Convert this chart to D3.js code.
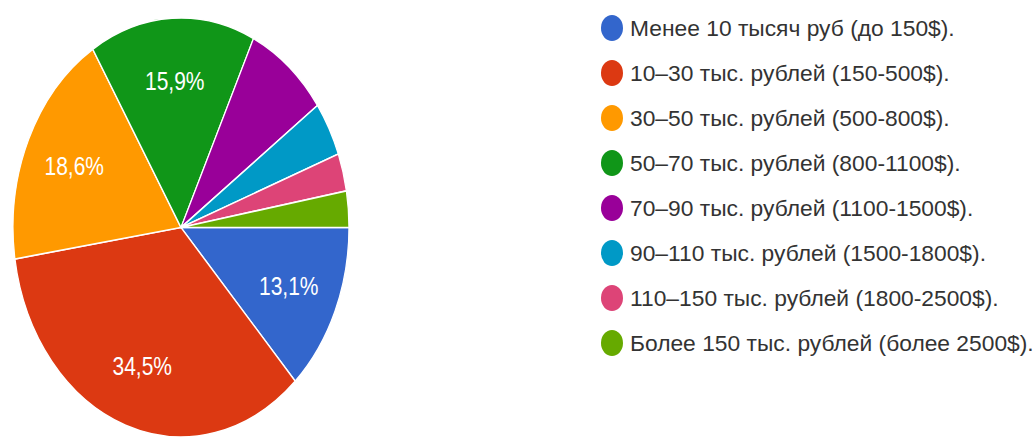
<!DOCTYPE html>
<html>
<head>
<meta charset="utf-8">
<script src="https://cdn.jsdelivr.net/npm/d3@7"></script>
<style>
  html, body { margin: 0; padding: 0; background: #fff; }
  svg { display: block; }
</style>
</head>
<body>
<svg id="chart" width="1034" height="439"></svg>
<script>
const categories = [
  "Менее 10 тысяч руб (до 150$).",
  "10–30 тыс. рублей (150-500$).",
  "30–50 тыс. рублей (500-800$).",
  "50–70 тыс. рублей (800-1100$).",
  "70–90 тыс. рублей (1100-1500$).",
  "90–110 тыс. рублей (1500-1800$).",
  "110–150 тыс. рублей (1800-2500$).",
  "Более 150 тыс. рублей (более 2500$)."
];
const values = [13.1, 34.5, 18.6, 15.9, 8.0, 4.2, 2.9, 2.8];
const valueLabels = ["13,1%", "34,5%", "18,6%", "15,9%", "", "", "", ""];
const colors = ["#3366cc", "#dc3912", "#ff9900", "#109618", "#990099", "#0099c6", "#dd4477", "#66aa00"];

const svg = d3.select("#chart");
svg.append("rect").attr("width", 1034).attr("height", 439).attr("fill", "#fff");

const R = 168;
const stretch = 1.247;
const cx = 181, cy = 227.5;

const pie = d3.pie().sort(null).value(d => d)
  .startAngle(Math.PI / 2).endAngle(Math.PI / 2 + 2 * Math.PI);
const arcs = pie(values);
const arc = d3.arc().innerRadius(0).outerRadius(R);
const labelArc = d3.arc().innerRadius(R * 0.7).outerRadius(R * 0.7);

const g = svg.append("g").attr("transform", `translate(${cx},${cy}) scale(1,${stretch})`);
g.selectAll("path.slice").data(arcs).enter().append("path")
  .attr("class", "slice")
  .attr("d", arc)
  .attr("fill", (d, i) => colors[i])
  .attr("stroke", "#fff")
  .attr("stroke-width", 1.3);

g.selectAll("text.lbl").data(arcs).enter().append("text")
  .attr("class", "lbl")
  .attr("transform", d => { const c = labelArc.centroid(d); return `translate(${c[0]},${c[1]})`; })
  .attr("text-anchor", "middle")
  .attr("dominant-baseline", "central")
  .attr("font-family", "'Liberation Sans', Arial, sans-serif")
  .attr("font-size", 21)
  .attr("fill", "#fff")
  .text((d, i) => valueLabels[i]);

const legendY = d3.scaleLinear().domain([0, 1]).range([28, 73]);
const lg = svg.append("g");
const items = lg.selectAll("g.item").data(categories).enter().append("g")
  .attr("class", "item")
  .attr("transform", (d, i) => `translate(612,${legendY(i)})`);
items.append("ellipse").attr("rx", 11).attr("ry", 13).attr("fill", (d, i) => colors[i]);
items.append("text")
  .attr("x", 18)
  .attr("y", 0)
  .attr("dominant-baseline", "central")
  .attr("font-family", "'Liberation Sans', Arial, sans-serif")
  .attr("font-size", 22.8)
  .attr("fill", "#333")
  .text(d => d);
</script>
</body>
</html>
